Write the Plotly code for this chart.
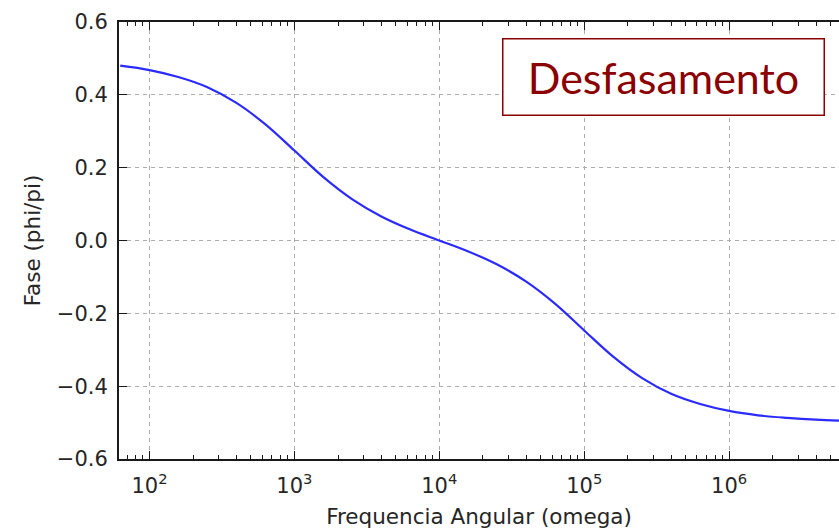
import math
import plotly.graph_objects as go

# Angular frequency (rad/s) and phase (in units of pi)
omega = [62.8, 100, 158, 251, 398, 631, 1000, 1585, 2512, 3981, 6310,
         10000, 15850, 25120, 39810, 63100, 100000, 158500, 251200,
         398100, 631000, 1000000, 1585000, 2512000, 3981000, 6280000]
fase = [0.480, 0.468, 0.449, 0.421, 0.378, 0.319, 0.247, 0.174, 0.113,
        0.066, 0.030, 0.000, -0.030, -0.066, -0.113, -0.174, -0.247,
        -0.319, -0.378, -0.421, -0.449, -0.468, -0.480, -0.487, -0.492,
        -0.495]

x_ticks = [1e2, 1e3, 1e4, 1e5, 1e6]
x_ticktext = ["10<sup>2</sup>", "10<sup>3</sup>", "10<sup>4</sup>",
              "10<sup>5</sup>", "10<sup>6</sup>"]
x_minor = [m * 10 ** k for k in range(1, 7) for m in range(2, 10)]

y_ticks = [0.6, 0.4, 0.2, 0.0, -0.2, -0.4, -0.6]
y_ticktext = ["0.6", "0.4", "0.2", "0.0", "\u22120.2", "\u22120.4", "\u22120.6"]

W, H = 839, 531
L, R, T, B = 119, 0, 22, 72
px_per_decade = 144.9
x_lo = 1.7895
x_hi = x_lo + (W - L - R) / px_per_decade

tick_font = dict(family="DejaVu Sans", size=21, color="#262626")
title_font = dict(family="DejaVu Sans", size=21.5, color="#262626")
spine = "#1a1a1a"
grid = "#ababab"

fig = go.Figure()
fig.add_trace(go.Scatter(
    x=omega, y=fase, mode="lines",
    line=dict(color="#2b2bff", width=2.2, shape="spline", smoothing=1.0),
    hoverinfo="skip", showlegend=False,
))

fig.update_layout(
    width=W, height=H,
    margin=dict(l=L, r=R, t=T, b=B),
    paper_bgcolor="white", plot_bgcolor="white",
    xaxis=dict(
        type="log", range=[x_lo, x_hi],
        tickmode="array", tickvals=x_ticks, ticktext=x_ticktext,
        ticks="inside", ticklen=8, tickwidth=1.2, tickcolor=spine,
        showline=True, linecolor=spine, linewidth=2, mirror="ticks",
        showgrid=True, gridcolor=grid, gridwidth=1, griddash="4px,4px",
        zeroline=False, tickfont=tick_font, ticklabelstandoff=7,
        minor=dict(tickmode="array", tickvals=x_minor, ticks="inside",
                   ticklen=4, tickwidth=1, tickcolor=spine, showgrid=False),
        title=dict(text="Frequencia Angular (omega)", font=title_font,
                   standoff=12),
    ),
    yaxis=dict(
        range=[-0.6, 0.6],
        tickmode="array", tickvals=y_ticks, ticktext=y_ticktext,
        ticks="inside", ticklen=8, tickwidth=1.2, tickcolor=spine,
        showline=True, linecolor=spine, linewidth=2, mirror=False,
        showgrid=True, gridcolor=grid, gridwidth=1, griddash="4px,4px",
        zeroline=False, tickfont=tick_font, ticklabelstandoff=5,
        title=dict(text="Fase (phi/pi)", font=title_font, standoff=10),
    ),
    annotations=[dict(
        xref="paper", yref="paper", x=0.7563, y=0.8741,
        xanchor="center", yanchor="middle",
        text="Desfasamento", showarrow=False,
        font=dict(family="Lato", size=43, color="#8b0000"),
        bgcolor="white", bordercolor="#8b0000", borderwidth=1.5,
        borderpad=0, width=320, height=75, align="center", valign="middle",
    )],
)

fig.write_html("out.html")
